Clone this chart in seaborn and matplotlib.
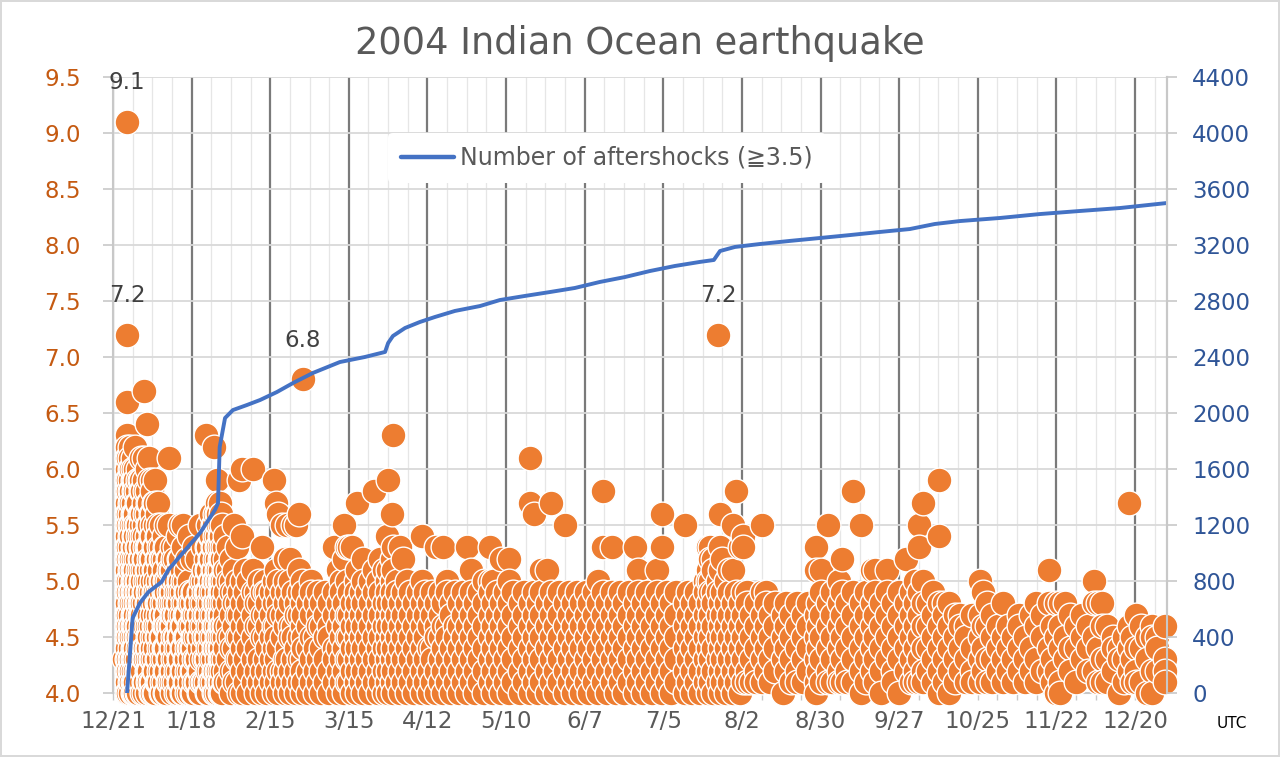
import numpy as np
import pandas as pd
import matplotlib
matplotlib.use("Agg")
import matplotlib.pyplot as plt
import matplotlib.dates as mdates
import seaborn as sns

START = pd.Timestamp("2004-12-21")
X_END_DAY = 375.4

# ---------------- aftershock magnitudes (day offset from 12/21/2004) ----------------
b1_days = [3.8, 5, 6, 7, 8, 9, 10, 11, 12, 13, 14, 15, 16, 17, 18, 19, 20, 21, 22, 23, 24, 25, 26, 27]
b1_mags = [
    [4.3],
    [9.1, 7.2, 6.6, 6.3, 6.2, 6.1, 6.0, 5.9, 5.8, 5.7, 5.6, 5.5, 5.4, 5.3, 5.2, 5.1, 5.0, 4.9, 4.8, 4.7, 4.6, 4.5, 4.4, 4.3, 4.2, 4.1, 4.0],
    [6.2, 6.1, 6.0, 5.9, 5.8, 5.7, 5.6, 5.5, 5.4, 5.3, 5.2, 5.1, 5.0, 4.9, 4.8, 4.7, 4.6, 4.5, 4.4, 4.3, 4.2, 4.1, 4.0],
    [6.1, 6.0, 5.9, 5.7, 5.6, 5.5, 5.3, 5.2, 5.1, 5.0, 4.9, 4.8, 4.7, 4.6, 4.5, 4.4, 4.3, 4.2, 4.1, 4.0],
    [6.2, 6.0, 5.9, 5.8, 5.6, 5.5, 5.4, 5.2, 5.1, 5.0, 4.9, 4.8, 4.7, 4.6, 4.5, 4.4, 4.3, 4.2, 4.1, 4.0],
    [6.0, 5.9, 5.7, 5.5, 5.4, 5.3, 5.1, 5.0, 4.9, 4.8, 4.7, 4.6, 4.5, 4.4, 4.2, 4.1, 4.0],
    [6.1, 5.9, 5.8, 5.6, 5.5, 5.3, 5.2, 5.0, 4.9, 4.8, 4.7, 4.6, 4.5, 4.3, 4.2, 4.1],
    [6.7, 6.1, 5.9, 5.7, 5.5, 5.4, 5.2, 5.1, 4.9, 4.8, 4.6, 4.5, 4.4, 4.3, 4.1, 4.0],
    [6.4, 6.0, 5.8, 5.6, 5.4, 5.3, 5.1, 5.0, 4.8, 4.7, 4.6, 4.4, 4.3, 4.2, 4.0],
    [6.1, 5.9, 5.7, 5.5, 5.3, 5.2, 5.0, 4.9, 4.7, 4.6, 4.5, 4.3, 4.2, 4.1],
    [5.9, 5.8, 5.6, 5.5, 5.4, 5.2, 5.0, 4.8, 4.7, 4.5, 4.4, 4.3, 4.1, 4.0],
    [5.9, 5.7, 5.5, 5.3, 5.1, 5.0, 4.9, 4.7, 4.6, 4.4, 4.2, 4.0],
    [5.7, 5.5, 5.4, 5.2, 5.0, 4.8, 4.7, 4.5, 4.3, 4.1],
    [5.5, 5.3, 5.2, 5.0, 4.9, 4.7, 4.5, 4.4, 4.2, 4.0],
    [5.4, 5.2, 5.1, 4.9, 4.8, 4.6, 4.4, 4.3, 4.1],
    [5.5, 5.3, 5.0, 4.9, 4.7, 4.6, 4.4, 4.2, 4.0],
    [6.1, 5.5, 5.2, 5.1, 4.9, 4.8, 4.6, 4.5, 4.3, 4.1],
    [5.3, 5.1, 4.9, 4.7, 4.6, 4.4, 4.2, 4.0],
    [5.3, 5.2, 5.0, 4.8, 4.7, 4.5, 4.3, 4.1],
    [5.4, 5.1, 4.9, 4.8, 4.6, 4.4, 4.2, 4.0],
    [5.5, 5.2, 5.0, 4.9, 4.7, 4.5, 4.3, 4.1],
    [5.5, 5.3, 5.0, 4.8, 4.6, 4.4, 4.2, 4.0],
    [5.1, 4.9, 4.7, 4.5, 4.3, 4.1],
    [5.4, 5.0, 4.8, 4.6, 4.4, 4.2, 4.0],
]

early_days = [5.5, 6.5, 7.5, 8.5, 9.5, 10.5, 11.5, 12.5, 13.5, 14.5, 15.5, 16.5, 17.5, 18.5, 19.5,
              20.5, 21.5, 22.5, 23.5, 24.5, 25.5, 26.5, 27.5, 28.5, 29.5, 30.5, 31.5, 32.5, 33.5,
              34.5, 35.5, 36.5, 37.5, 38.5, 39.5]
early_mags = [
    [6.1, 5.9, 5.8, 5.6, 5.5, 5.3, 5.2, 5.0, 4.9, 4.7, 4.6, 4.5, 4.3, 4.2, 4.0],
    [6.0, 5.8, 5.7, 5.5, 5.4, 5.2, 5.1, 4.9, 4.8, 4.6, 4.5, 4.3, 4.2, 4.1],
    [5.9, 5.8, 5.6, 5.4, 5.3, 5.1, 5.0, 4.9, 4.7, 4.6, 4.4, 4.3, 4.1, 4.0],
    [5.8, 5.7, 5.5, 5.3, 5.2, 5.0, 4.9, 4.8, 4.6, 4.5, 4.3, 4.2, 4.0],
    [5.9, 5.6, 5.4, 5.2, 5.1, 4.9, 4.8, 4.7, 4.5, 4.4, 4.2, 4.1],
    [5.8, 5.6, 5.4, 5.3, 5.1, 5.0, 4.8, 4.7, 4.5, 4.4, 4.2, 4.0],
    [5.8, 5.6, 5.3, 5.2, 5.0, 4.9, 4.7, 4.6, 4.4, 4.3, 4.1],
    [5.7, 5.5, 5.3, 5.1, 4.9, 4.8, 4.7, 4.5, 4.4, 4.2, 4.1],
    [5.6, 5.4, 5.2, 5.1, 4.9, 4.8, 4.6, 4.4, 4.3, 4.1, 4.0],
    [5.7, 5.3, 5.1, 4.9, 4.8, 4.6, 4.5, 4.3, 4.2, 4.0],
    [5.6, 5.4, 5.2, 4.9, 4.8, 4.6, 4.5, 4.3, 4.1],
    [5.3, 5.1, 4.9, 4.8, 4.6, 4.4, 4.2, 4.1],
    [5.2, 5.0, 4.8, 4.7, 4.5, 4.3, 4.1, 4.0],
    [5.3, 5.0, 4.9, 4.7, 4.6, 4.4, 4.2, 4.0],
    [5.2, 5.0, 4.8, 4.6, 4.5, 4.3, 4.1],
    [5.1, 4.9, 4.8, 4.6, 4.4, 4.2, 4.1],
    [5.2, 5.0, 4.8, 4.7, 4.5, 4.3, 4.1],
    [5.0, 4.9, 4.7, 4.5, 4.4, 4.2, 4.0],
    [5.2, 5.0, 4.8, 4.6, 4.5, 4.3, 4.1],
    [5.1, 4.9, 4.7, 4.6, 4.4, 4.2, 4.0],
    [5.0, 4.8, 4.7, 4.5, 4.3, 4.1],
    [5.2, 4.9, 4.7, 4.5, 4.4, 4.2, 4.0],
    [4.9, 4.8, 4.6, 4.4, 4.3, 4.1],
    [4.9, 4.7, 4.5, 4.4, 4.2, 4.0],
    [4.8, 4.7, 4.5, 4.3, 4.1],
    [4.9, 4.7, 4.5, 4.4, 4.2, 4.0],
    [5.0, 4.8, 4.6, 4.3, 4.1],
    [5.1, 4.9, 4.7, 4.5, 4.3, 4.1],
    [5.3, 5.1, 4.9, 4.7, 4.5, 4.3, 4.0],
    [5.4, 5.2, 5.0, 4.8, 4.6, 4.4, 4.2, 4.1],
    [5.5, 5.3, 5.1, 4.9, 4.7, 4.5, 4.3, 4.1],
    [5.6, 5.4, 5.2, 5.0, 4.8, 4.6, 4.4, 4.2, 4.0],
    [5.6, 5.5, 5.3, 5.1, 5.0, 4.8, 4.7, 4.5, 4.4, 4.2, 4.1],
    [5.6, 5.4, 5.2, 5.0, 4.9, 4.7, 4.6, 4.4, 4.3, 4.1, 4.0],
    [5.3, 5.1, 5.0, 4.8, 4.6, 4.5, 4.3, 4.1],
]

b2_days = [28, 29, 30, 31, 32, 33, 34, 35, 36, 37, 38, 39, 40, 41, 42, 43, 44, 45, 46, 47, 48, 50, 51, 52, 53, 54, 55]
b2_mags = [
    [5.2, 4.8, 4.6, 4.4, 4.2, 4.0],
    [5.3, 4.9, 4.7, 4.5, 4.3, 4.1],
    [5.2, 4.8, 4.6, 4.3, 4.1],
    [5.5, 4.9, 4.7, 4.5, 4.2, 4.0],
    [5.3, 5.0, 4.8, 4.6, 4.4, 4.1],
    [6.3, 5.2, 5.0, 4.9, 4.7, 4.5, 4.3, 4.1],
    [5.5, 5.3, 5.1, 4.9, 4.8, 4.6, 4.4, 4.2, 4.0],
    [5.6, 5.4, 5.2, 5.0, 4.9, 4.7, 4.5, 4.3, 4.1],
    [6.2, 5.5, 5.3, 5.1, 5.0, 4.8, 4.6, 4.4, 4.2, 4.0],
    [5.9, 5.7, 5.6, 5.5, 5.4, 5.3, 5.2, 5.1, 5.0, 4.9, 4.8, 4.7, 4.6, 4.5, 4.4, 4.3, 4.2, 4.1, 4.0],
    [5.7, 5.5, 5.4, 5.3, 5.2, 5.1, 5.0, 4.9, 4.8, 4.7, 4.6, 4.5, 4.4, 4.3, 4.2, 4.1, 4.0],
    [5.5, 5.3, 5.2, 5.0, 4.9, 4.8, 4.6, 4.5, 4.3, 4.2, 4.0],
    [5.4, 5.2, 5.1, 4.9, 4.7, 4.6, 4.4, 4.2, 4.1],
    [5.3, 5.1, 5.0, 4.8, 4.6, 4.5, 4.3, 4.1],
    [5.2, 5.0, 4.9, 4.7, 4.5, 4.4, 4.2, 4.0],
    [5.5, 5.1, 4.9, 4.8, 4.6, 4.4, 4.2, 4.1],
    [5.3, 5.0, 4.8, 4.7, 4.5, 4.3, 4.1],
    [5.9, 4.9, 4.7, 4.5, 4.3, 4.0],
    [6.0, 5.4, 5.0, 4.8, 4.6, 4.4, 4.2, 4.0],
    [5.1, 4.9, 4.7, 4.5, 4.3, 4.1],
    [5.0, 4.8, 4.6, 4.4, 4.2, 4.0],
    [6.0, 5.1, 4.9, 4.7, 4.5, 4.3, 4.1],
    [4.9, 4.8, 4.6, 4.4, 4.2, 4.0],
    [5.0, 4.8, 4.6, 4.3, 4.1],
    [5.3, 4.9, 4.7, 4.5, 4.2, 4.0],
    [5.0, 4.9, 4.7, 4.5, 4.3, 4.1],
    [4.9, 4.8, 4.6, 4.4, 4.2, 4.0],
]

b3_days = [56.4, 57.2, 58.1, 58.8, 60.3, 61.1, 61.8, 63.2, 64.0, 65.3, 66.1, 67.2, 67.7, 69.3, 70.4,
           71.8, 72.9, 74.2, 75.6, 77.1, 78.8, 80.2, 81.3, 82.1, 83.4]
b3_mags = [
    [4.9, 4.7, 4.5, 4.3, 4.1],
    [5.9, 5.0, 4.8, 4.6, 4.4, 4.2, 4.0],
    [5.7, 5.1, 4.9, 4.6, 4.5, 4.3, 4.1],
    [5.6, 5.0, 4.8, 4.7, 4.4, 4.2, 4.0],
    [5.5, 4.9, 4.7, 4.5, 4.2, 4.1],
    [5.2, 5.0, 4.8, 4.6, 4.3, 4.2, 4.0],
    [5.5, 4.9, 4.7, 4.4, 4.3, 4.1],
    [5.2, 5.0, 4.8, 4.6, 4.5, 4.2, 4.0],
    [5.5, 4.9, 4.6, 4.5, 4.3, 4.1],
    [5.5, 4.8, 4.7, 4.4, 4.2, 4.0],
    [5.6, 5.1, 4.9, 4.7, 4.5, 4.3, 4.1],
    [5.0, 4.8, 4.6, 4.3, 4.2, 4.0],
    [6.8, 4.9, 4.7, 4.5, 4.4, 4.1],
    [4.8, 4.6, 4.4, 4.2, 4.0],
    [5.0, 4.9, 4.7, 4.5, 4.3, 4.1],
    [4.8, 4.5, 4.4, 4.2, 4.0],
    [4.9, 4.7, 4.6, 4.3, 4.1],
    [4.8, 4.6, 4.4, 4.2, 4.0],
    [4.9, 4.7, 4.5, 4.3, 4.1],
    [4.8, 4.6, 4.5, 4.2, 4.0],
    [5.3, 4.9, 4.7, 4.4, 4.3, 4.1],
    [5.1, 4.8, 4.6, 4.4, 4.2, 4.0],
    [5.0, 4.9, 4.7, 4.5, 4.3, 4.1],
    [5.5, 5.2, 4.8, 4.6, 4.4, 4.2, 4.0],
    [5.3, 5.0, 4.7, 4.5, 4.3, 4.1],
]

b4_days = [84.2, 85.3, 86.4, 87.0, 88.3, 89.2, 90.4, 91.6, 93.0, 94.3, 95.2, 96.5, 97.5, 98.0, 99.2,
           99.7, 101.1, 102.3, 103.4, 104.6, 105.7, 107.2, 108.5, 110.0, 111.3]
b4_mags = [
    [5.3, 4.9, 4.7, 4.5, 4.3, 4.1],
    [5.3, 4.8, 4.6, 4.4, 4.2, 4.0],
    [5.0, 4.9, 4.7, 4.5, 4.3, 4.1],
    [5.7, 5.1, 4.8, 4.6, 4.4, 4.2, 4.0],
    [4.9, 4.7, 4.5, 4.3, 4.1],
    [5.2, 5.0, 4.8, 4.6, 4.4, 4.2, 4.0],
    [4.9, 4.7, 4.5, 4.3, 4.1],
    [5.0, 4.8, 4.6, 4.4, 4.2, 4.0],
    [5.8, 5.1, 4.9, 4.7, 4.5, 4.3, 4.1],
    [5.0, 4.8, 4.6, 4.4, 4.2, 4.0],
    [5.2, 4.9, 4.7, 4.5, 4.3, 4.1],
    [5.1, 4.8, 4.6, 4.4, 4.2, 4.0],
    [5.4, 5.0, 4.9, 4.7, 4.5, 4.3, 4.1],
    [5.9, 5.1, 4.8, 4.6, 4.4, 4.2, 4.0],
    [5.6, 5.2, 5.0, 4.9, 4.7, 4.5, 4.3, 4.1],
    [6.3, 5.3, 5.1, 4.8, 4.6, 4.4, 4.2, 4.0],
    [5.0, 4.9, 4.7, 4.5, 4.3, 4.1],
    [5.3, 4.8, 4.6, 4.4, 4.2, 4.0],
    [5.2, 4.9, 4.7, 4.5, 4.3, 4.1],
    [5.0, 4.8, 4.6, 4.4, 4.2, 4.0],
    [4.9, 4.7, 4.5, 4.3, 4.1],
    [4.8, 4.6, 4.4, 4.2, 4.0],
    [4.9, 4.7, 4.5, 4.3, 4.1],
    [5.4, 5.0, 4.8, 4.6, 4.4, 4.2, 4.0],
    [4.9, 4.7, 4.5, 4.3, 4.1],
]

b5_days = [112.5, 113.6, 115.0, 116.3, 117.5, 119.0, 120.4, 121.7, 123.2, 124.6, 126.0, 127.5, 129.1,
           130.5, 132.0, 134.2, 135.4, 136.8, 138.1]
b5_mags = [
    [4.8, 4.6, 4.4, 4.2, 4.0],
    [4.9, 4.7, 4.4, 4.3, 4.1],
    [5.3, 4.8, 4.6, 4.5, 4.2, 4.0],
    [4.9, 4.7, 4.5, 4.3, 4.1],
    [5.3, 4.8, 4.6, 4.4, 4.2, 4.0],
    [5.0, 4.9, 4.6, 4.5, 4.3, 4.1],
    [4.8, 4.7, 4.4, 4.2, 4.0],
    [4.9, 4.6, 4.5, 4.3, 4.1],
    [4.8, 4.6, 4.4, 4.2, 4.0],
    [4.9, 4.7, 4.5, 4.3, 4.1],
    [5.3, 4.8, 4.6, 4.4, 4.2, 4.0],
    [5.1, 4.9, 4.7, 4.5, 4.3, 4.1],
    [4.8, 4.6, 4.4, 4.2, 4.0],
    [4.9, 4.7, 4.5, 4.3, 4.1],
    [5.0, 4.8, 4.6, 4.4, 4.2, 4.0],
    [5.3, 5.0, 4.9, 4.7, 4.5, 4.3, 4.1],
    [5.0, 4.8, 4.6, 4.4, 4.2, 4.0],
    [4.9, 4.7, 4.5, 4.3, 4.1],
    [5.2, 4.8, 4.6, 4.4, 4.2, 4.0],
]

b6_days = [139.6, 141.2, 142.5, 144.8, 146.3, 148.5, 149.9, 151.3, 152.6, 154.5, 156.0, 157.4, 158.9,
           160.9, 162.3, 163.8, 165.4, 166.8]
b6_mags = [
    [4.9, 4.7, 4.5, 4.3, 4.1],
    [5.2, 5.0, 4.8, 4.6, 4.4, 4.2, 4.0],
    [4.9, 4.7, 4.5, 4.3, 4.1],
    [4.8, 4.6, 4.4, 4.2, 4.0],
    [4.9, 4.7, 4.5, 4.3, 4.1],
    [6.1, 5.7, 4.8, 4.6, 4.4, 4.2, 4.0],
    [5.6, 4.9, 4.7, 4.5, 4.3, 4.1],
    [4.8, 4.6, 4.4, 4.2, 4.0],
    [5.1, 4.9, 4.7, 4.5, 4.3, 4.1],
    [5.1, 4.8, 4.6, 4.4, 4.2, 4.0],
    [5.7, 4.9, 4.7, 4.5, 4.3, 4.1],
    [4.8, 4.6, 4.4, 4.2, 4.0],
    [4.9, 4.7, 4.5, 4.3, 4.1],
    [5.5, 4.8, 4.6, 4.4, 4.2, 4.0],
    [4.9, 4.7, 4.5, 4.3, 4.1],
    [4.8, 4.6, 4.4, 4.2, 4.0],
    [4.9, 4.7, 4.5, 4.3, 4.1],
    [4.8, 4.6, 4.4, 4.2, 4.0],
]

b7_days = [168.3, 169.7, 171.2, 172.8, 174.5, 175.9, 177.6, 179.2, 180.7, 182.1, 183.7, 185.9, 187.0,
           188.6, 190.2, 191.8, 193.6]
b7_mags = [
    [4.9, 4.7, 4.5, 4.3, 4.1],
    [4.8, 4.6, 4.4, 4.2, 4.0],
    [4.9, 4.7, 4.5, 4.3, 4.1],
    [5.0, 4.8, 4.6, 4.4, 4.2, 4.0],
    [5.8, 5.3, 4.9, 4.7, 4.5, 4.3, 4.1],
    [4.8, 4.6, 4.4, 4.2, 4.0],
    [5.3, 4.9, 4.7, 4.5, 4.3, 4.1],
    [4.8, 4.6, 4.4, 4.2, 4.0],
    [4.9, 4.7, 4.5, 4.3, 4.1],
    [4.8, 4.6, 4.4, 4.2, 4.0],
    [4.9, 4.7, 4.5, 4.3, 4.1],
    [5.3, 4.8, 4.6, 4.4, 4.2, 4.0],
    [5.1, 4.9, 4.7, 4.5, 4.3, 4.1],
    [4.8, 4.6, 4.4, 4.2, 4.0],
    [4.9, 4.7, 4.5, 4.3, 4.1],
    [4.8, 4.6, 4.4, 4.2, 4.0],
    [5.1, 4.9, 4.7, 4.5, 4.3, 4.1],
]

b8_days = [195.6, 197.3, 198.8, 200.5, 203.7, 204.9, 206.2, 207.7, 209.2, 210.8, 212.0, 212.7, 213.6,
           215.5, 216.1, 217.0, 218.2, 219.5, 220.8, 222.0, 223.3]
b8_mags = [
    [5.6, 5.3, 4.8, 4.6, 4.4, 4.2, 4.0],
    [4.9, 4.7, 4.5, 4.3, 4.1],
    [4.8, 4.6, 4.4, 4.2, 4.0],
    [4.9, 4.7, 4.5, 4.3, 4.1],
    [5.5, 4.8, 4.6, 4.4, 4.2, 4.0],
    [4.9, 4.7, 4.5, 4.3, 4.1],
    [4.8, 4.6, 4.4, 4.2, 4.0],
    [4.9, 4.7, 4.5, 4.3, 4.1],
    [4.8, 4.6, 4.4, 4.2, 4.0],
    [5.0, 4.9, 4.7, 4.5, 4.3, 4.1],
    [5.3, 5.1, 5.0, 4.8, 4.6, 4.4, 4.2, 4.0],
    [5.3, 5.2, 5.0, 4.9, 4.7, 4.5, 4.3, 4.1],
    [5.2, 5.1, 4.9, 4.8, 4.6, 4.4, 4.2, 4.0],
    [7.2, 5.0, 4.9, 4.7, 4.5, 4.3, 4.1],
    [5.6, 5.3, 5.1, 4.8, 4.6, 4.4, 4.2, 4.0],
    [5.2, 4.9, 4.7, 4.5, 4.3, 4.1],
    [5.0, 4.8, 4.6, 4.4, 4.2, 4.0],
    [5.1, 4.9, 4.7, 4.5, 4.3, 4.1],
    [5.5, 5.1, 4.8, 4.6, 4.4, 4.2, 4.0],
    [5.8, 4.9, 4.7, 4.5, 4.3, 4.1],
    [5.3, 4.8, 4.6, 4.4, 4.2, 4.0],
]

b9_days = [224.4, 225.8, 227.3, 228.9, 231.3, 232.6, 234.1, 235.9, 238.6, 239.8, 241.5, 243.7, 245.6,
           247.4, 250.5, 251.1]
b9_mags = [
    [5.4, 5.3, 4.9, 4.7, 4.5, 4.3, 4.1],
    [4.9, 4.8, 4.6, 4.4, 4.2, 4.1],
    [4.7, 4.5, 4.3, 4.1],
    [4.8, 4.6, 4.4, 4.2, 4.1],
    [5.5, 4.9, 4.7, 4.5, 4.3, 4.1],
    [4.9, 4.8, 4.6, 4.4, 4.2],
    [4.7, 4.5, 4.3, 4.1],
    [4.8, 4.6, 4.4, 4.2],
    [4.7, 4.5, 4.3, 4.0],
    [4.8, 4.6, 4.4, 4.2],
    [4.7, 4.5, 4.3, 4.1],
    [4.8, 4.6, 4.4, 4.2, 4.1],
    [4.7, 4.5, 4.3, 4.1],
    [4.8, 4.6, 4.4, 4.2],
    [5.3, 5.1, 4.7, 4.5, 4.3, 4.1, 4.0],
    [4.8, 4.6, 4.4, 4.2],
]

b10_days = [252.3, 254.6, 256.2, 258.5, 259.7, 261.6, 263.6, 266.5, 268.3, 270.2, 271.5, 273.7, 275.6,
            277.9]
b10_mags = [
    [5.1, 4.9, 4.7, 4.5, 4.3, 4.1],
    [5.5, 4.8, 4.6, 4.4, 4.2, 4.1],
    [4.9, 4.7, 4.5, 4.3, 4.1],
    [5.0, 4.8, 4.6, 4.4, 4.2, 4.1],
    [5.2, 4.9, 4.7, 4.5, 4.3, 4.1],
    [4.8, 4.6, 4.4, 4.2, 4.1],
    [5.8, 4.9, 4.7, 4.5, 4.3, 4.1],
    [5.5, 4.8, 4.6, 4.4, 4.2, 4.0],
    [4.9, 4.7, 4.5, 4.3, 4.1],
    [5.1, 4.8, 4.6, 4.4, 4.2],
    [5.1, 4.9, 4.7, 4.5, 4.3, 4.1],
    [4.8, 4.6, 4.4, 4.2, 4.0],
    [5.1, 4.9, 4.7, 4.5, 4.3],
    [4.8, 4.6, 4.4, 4.2, 4.1],
]

b11_days = [279.8, 282.6, 284.1, 285.7, 287.0, 288.4, 290.3, 292.2, 294.3, 296.0, 297.8, 299.9, 301.6,
            303.8, 305.9]
b11_mags = [
    [4.9, 4.7, 4.5, 4.3, 4.0],
    [5.2, 4.8, 4.6, 4.4, 4.2],
    [4.9, 4.7, 4.5, 4.3, 4.1],
    [5.0, 4.8, 4.6, 4.4, 4.2, 4.1],
    [5.5, 5.3, 4.9, 4.7, 4.5, 4.3, 4.1],
    [5.7, 5.0, 4.8, 4.6, 4.4, 4.2, 4.1],
    [4.8, 4.6, 4.4, 4.2],
    [4.9, 4.7, 4.5, 4.3, 4.1],
    [5.9, 5.4, 4.8, 4.6, 4.4, 4.2, 4.0],
    [4.8, 4.7, 4.5, 4.3, 4.1],
    [4.8, 4.6, 4.4, 4.2, 4.0],
    [4.7, 4.5, 4.3, 4.1],
    [4.7, 4.6, 4.4, 4.2],
    [4.6, 4.5, 4.3, 4.1],
    [4.7, 4.4, 4.2, 4.1],
]

b12_days = [308.8, 309.9, 311.3, 313.1, 315.2, 317.0, 318.9, 320.6, 322.7, 324.8, 327.1, 328.9, 331.0,
            333.3, 334.4, 335.7]
b12_mags = [
    [5.0, 4.7, 4.5, 4.3, 4.1],
    [4.9, 4.6, 4.4, 4.2],
    [4.8, 4.6, 4.3, 4.1],
    [4.7, 4.5, 4.3, 4.1],
    [4.6, 4.4, 4.2],
    [4.8, 4.5, 4.3, 4.1],
    [4.6, 4.4, 4.2],
    [4.5, 4.3, 4.1],
    [4.7, 4.6, 4.4, 4.2],
    [4.5, 4.3, 4.1],
    [4.7, 4.4, 4.2],
    [4.8, 4.6, 4.3, 4.1],
    [4.7, 4.5, 4.2],
    [5.1, 4.8, 4.4, 4.2],
    [4.6, 4.3, 4.1],
    [4.8, 4.5, 4.2, 4.0],
]

b13_days = [337.2, 339.0, 340.8, 342.9, 345.1, 347.2, 349.4, 350.8, 352.3, 354.1, 356.2, 358.4, 360.1,
            362.0, 363.1]
b13_mags = [
    [4.8, 4.6, 4.4, 4.1, 4.0],
    [4.8, 4.5, 4.3],
    [4.7, 4.4, 4.2],
    [4.6, 4.4, 4.1],
    [4.7, 4.5, 4.3],
    [4.6, 4.4, 4.2],
    [5.0, 4.8, 4.5, 4.2],
    [4.8, 4.4, 4.1],
    [4.8, 4.6, 4.3, 4.1],
    [4.6, 4.3, 4.1],
    [4.5, 4.4, 4.2],
    [4.4, 4.3, 4.0],
    [4.5, 4.3, 4.1],
    [5.7, 4.6, 4.4, 4.2],
    [4.5, 4.3, 4.1],
]

b14_days = [364.5, 366.2, 368.3, 370.1, 372.0, 374.6]
b14_mags = [
    [4.7, 4.4, 4.2, 4.1],
    [4.6, 4.4, 4.1],
    [4.5, 4.3, 4.0],
    [4.6, 4.5, 4.2, 4.0],
    [4.5, 4.4, 4.2],
    [4.6, 4.3, 4.2, 4.1],
]

# ---------------- cumulative number of aftershocks (>=3.5) ----------------
count_day = [5.0, 7.0, 9.6, 12.6, 17.3, 19.7, 22.7, 26.7, 31.0, 36.3, 37.4, 38.0, 39.9, 42.7, 47.7,
             52.4, 58.4, 64.1, 71.2, 80.8, 89.7, 96.9, 98.0, 99.7, 104.0, 109.3, 114.7, 121.8, 130.7,
             137.8, 146.7, 155.6, 164.5, 173.4, 182.3, 191.2, 200.1, 209.0, 214.0, 216.2, 221.5,
             230.4, 241.0, 251.8, 262.5, 273.1, 283.8, 292.7, 301.6, 315.9, 330.1, 344.4, 358.6, 375.4]
count_value = [0, 536, 643, 721, 793, 879, 950, 1043, 1143, 1307, 1357, 1757, 1964, 2021, 2057,
               2093, 2150, 2214, 2286, 2364, 2400, 2436, 2500, 2550, 2607, 2650, 2686, 2729, 2764,
               2807, 2836, 2864, 2893, 2936, 2971, 3014, 3050, 3079, 3093, 3157, 3186,
               3207, 3229, 3250, 3271, 3293, 3314, 3350, 3371, 3393, 3421, 3443, 3464, 3500]

# labelled shocks
label_day = [5, 5, 67.7, 215.5]
label_mag = [9.1, 7.2, 6.8, 7.2]
label_text = ["9.1", "7.2", "6.8", "7.2"]

# ---------------- assemble ----------------
blocks = [(b1_days, b1_mags), (early_days, early_mags), (b2_days, b2_mags), (b3_days, b3_mags),
          (b4_days, b4_mags), (b5_days, b5_mags), (b6_days, b6_mags), (b7_days, b7_mags),
          (b8_days, b8_mags), (b9_days, b9_mags), (b10_days, b10_mags), (b11_days, b11_mags),
          (b12_days, b12_mags), (b13_days, b13_mags), (b14_days, b14_mags)]
rows = []
for days, mags in blocks:
    for d, ms in zip(days, mags, strict=True):
        for m in ms:
            rows.append((d, m))
quakes = pd.DataFrame(rows, columns=["day", "mag"]).sort_values("day", kind="stable")
quakes["time"] = START + pd.to_timedelta(quakes["day"], unit="D")

counts = pd.DataFrame({"time": START + pd.to_timedelta(count_day, unit="D"), "count": count_value})

# ---------------- figure ----------------
sns.set_theme(style="white")
plt.rcParams["font.family"] = ["DejaVu Sans", "Noto Sans CJK JP"]

W, H = 1280, 757
fig = plt.figure(figsize=(W / 100, H / 100), dpi=100)
fig.patch.set_facecolor("white")
fig.patch.set_edgecolor("#D9D9D9")
fig.patch.set_linewidth(1.5)

L, R, T, B = 113, 1167, 77, 693
ax = fig.add_axes([L / W, 1 - B / H, (R - L) / W, (B - T) / H])
ax.set_facecolor("white")

ORANGE = "#ED7D31"
BLUE = "#4472C4"

sns.scatterplot(data=quakes, x="time", y="mag", ax=ax, s=318, color=ORANGE,
                edgecolor="white", linewidth=1.0, legend=False, zorder=3, clip_on=False)

x0 = START
x1 = START + pd.Timedelta(days=X_END_DAY)
ax.set_xlim(mdates.date2num(x0.to_pydatetime()), mdates.date2num(x1.to_pydatetime()))
ax.set_ylim(4.0, 9.5)

major_dates = pd.date_range(START, periods=14, freq="28D")
minor_dates = pd.date_range(START, x1, freq="7D")
ax.set_xticks(mdates.date2num(major_dates.to_pydatetime()))
ax.set_xticklabels([f"{d.month}/{d.day}" for d in major_dates])
ax.set_xticks(mdates.date2num(minor_dates.to_pydatetime()), minor=True)

yt = np.arange(4.0, 9.51, 0.5)
ax.set_yticks(yt)
ax.set_yticklabels([f"{v:.1f}" for v in yt])

ax.set_axisbelow(True)
ax.grid(axis="y", which="major", color="#D9D9D9", linewidth=1.3)
ax.grid(axis="x", which="minor", color="#E6E6E6", linewidth=0.9)
ax.grid(axis="x", which="major", color="#7A7A7A", linewidth=1.6)

ax.tick_params(axis="x", which="both", length=5, width=1, color="#C8C8C8",
               labelsize=16.5, labelcolor="#595959", pad=7, bottom=True)
ax.tick_params(axis="y", which="major", length=7, width=1.2, color="#C8C8C8",
               labelsize=16.5, labelcolor="#C55A11", pad=16, left=True)
for side in ["left", "bottom", "right"]:
    ax.spines[side].set_color("#C8C8C8")
    ax.spines[side].set_linewidth(1.5)
ax.spines["top"].set_visible(False)
ax.set_xlabel("")
ax.set_ylabel("")

for d, m, t in zip(label_day, label_mag, label_text):
    ax.annotate(t, xy=(START + pd.Timedelta(days=d), m), xytext=(0, 28),
                textcoords="offset points", ha="center", va="center",
                fontsize=16.5, color="#404040", zorder=5)

# right axis: cumulative count
ax2 = ax.twinx()
sns.lineplot(data=counts, x="time", y="count", ax=ax2, color=BLUE, linewidth=2.8,
             estimator=None, sort=False, label="Number of aftershocks (\u2267" + "3.5)")
for ln in ax2.get_lines():
    ln.set_linewidth(2.8)
    ln.set_solid_capstyle("round")
    ln.set_solid_joinstyle("round")
ax2.set_ylim(0, 4400)
ax2.set_yticks(np.arange(0, 4401, 400))
ax2.set_yticklabels([str(v) for v in range(0, 4401, 400)])
ax2.tick_params(axis="y", length=7, width=1.2, color="#C8C8C8", labelsize=16.5,
                labelcolor="#2F5597", pad=11, right=True)
for side in ["left", "bottom", "top"]:
    ax2.spines[side].set_visible(False)
ax2.spines["right"].set_color("#C8C8C8")
ax2.spines["right"].set_linewidth(1.5)
ax2.set_xlabel("")
ax2.set_ylabel("")

leg = ax2.legend(loc="center", bbox_to_anchor=(607 / W, 1 - 158 / H), bbox_transform=fig.transFigure,
                 frameon=True, facecolor="white", edgecolor="none", framealpha=1, fontsize=17,
                 handlelength=2.25, handletextpad=0.25, borderpad=0.55)
for txt in leg.get_texts():
    txt.set_color("#595959")
for h in leg.get_lines():
    h.set_linewidth(3.2)

fig.text(0.5, 1 - 43 / H, "2004 Indian Ocean earthquake", ha="center", va="center",
         fontsize=26.5, color="#595959")
fig.text(1232 / W, 1 - 724 / H, "UTC", ha="center", va="center", fontsize=11, color="black")

fig.savefig("out.png", dpi=100, facecolor="white", edgecolor="#D9D9D9")
